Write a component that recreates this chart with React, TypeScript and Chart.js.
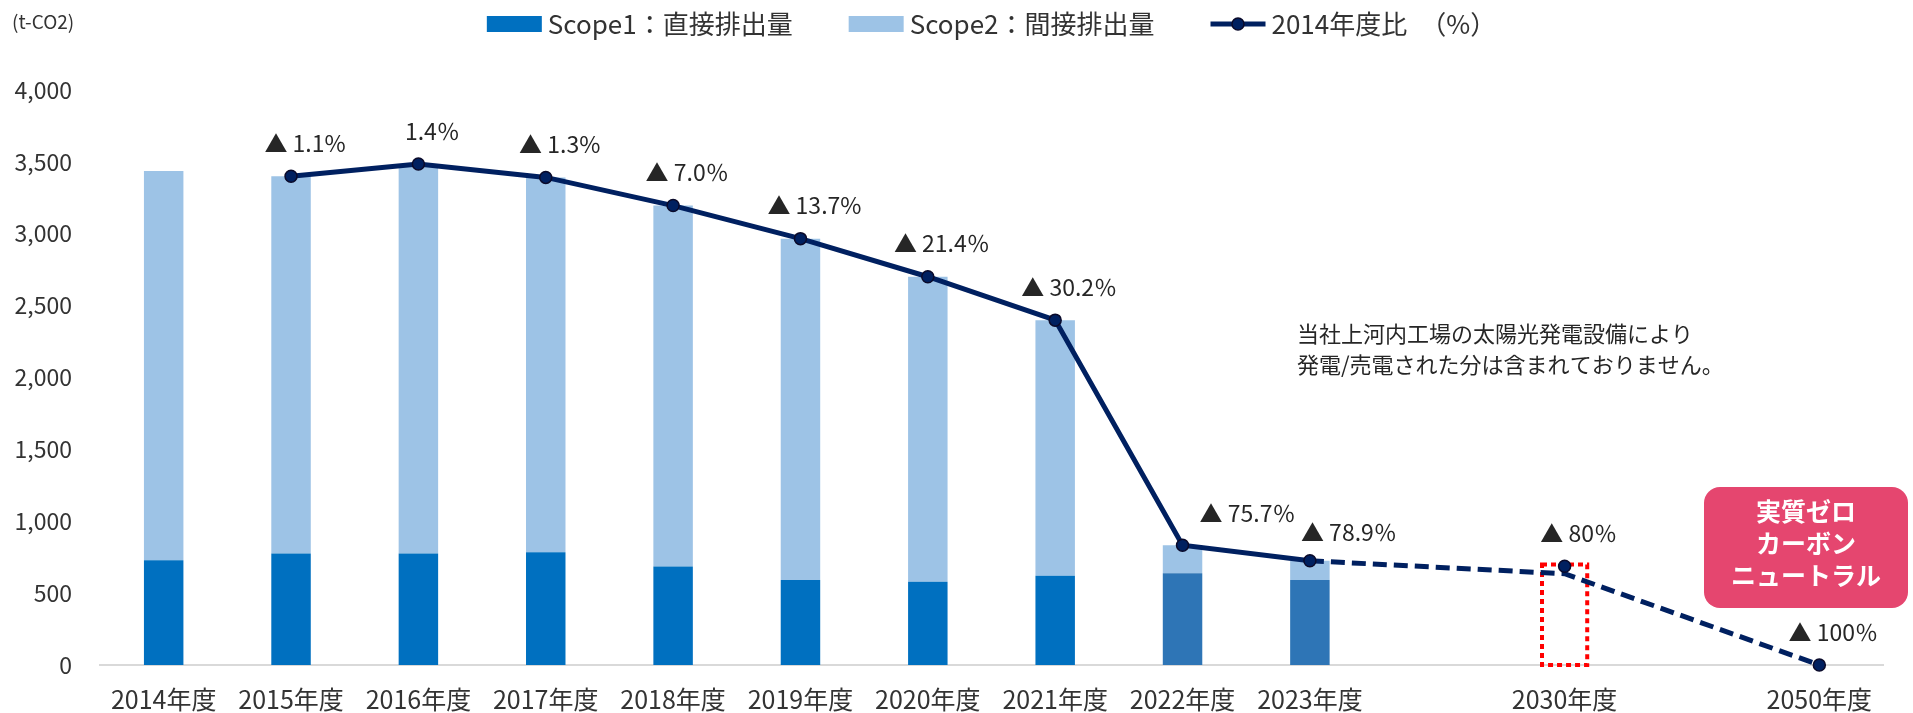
import React, { useEffect, useRef } from "react";
import { Chart, registerables } from "chart.js";

Chart.register(...registerables);

// ---------- data ----------
const categories = [
  "2014年度", "2015年度", "2016年度", "2017年度", "2018年度", "2019年度", "2020年度",
  "2021年度", "2022年度", "2023年度", "", "2030年度", "", "2050年度",
];
const scope1 = [728, 775, 775, 784, 686, 591, 580, 621, 638, 591, null, null, null, null];
const scope2 = [2709, 2625, 2710, 2608, 2510, 2375, 2121, 1778, 195, 134, null, null, null, null];
const ratioLine = [null, 3400, 3485, 3392, 3196, 2966, 2701, 2399, 833, 725, null, 687, null, 0];
const projection = [null, null, null, null, null, null, null, null, null, 725, null, 635, null, 0];
const target2030 = [null, null, null, null, null, null, null, null, null, null, null, 700, null, null];
const ratioLabels = [
  "", "▲ 1.1%", "1.4％", "▲ 1.3%", "▲ 7.0％", "▲ 13.7%", "▲ 21.4％", "▲ 30.2％",
  "▲ 75.7％", "▲ 78.9％", "", "▲ 80％", "", "▲ 100％",
];
const yMax = 4000;
const yStep = 500;

const legendLabels = ["Scope1：直接排出量", "Scope2：間接排出量", "2014年度比　（%）"];
const unitLabel = "(t-CO2)";
const noteLines = ["当社上河内工場の太陽光発電設備により", "発電/売電された分は含まれておりません。"];
const badgeLines = ["実質ゼロ", "カーボン", "ニュートラル"];

// ---------- styles ----------
const FONT = "'Noto Sans CJK JP', 'Noto Sans', sans-serif";
const C_SCOPE1 = "#0070C0";
const C_SCOPE1_LATE = "#2E75B6";
const C_SCOPE2 = "#9DC3E6";
const C_LINE = "#002060";
const C_TEXT = "#333333";
const C_BADGE = "#E5466F";
const LABEL_DX = 14;
const LABEL_DY = -33;
const LABEL_OVERRIDES: Record<number, [number, number]> = { 8: [65, -32], 9: [39, -29] };

const decorPlugin = {
  id: "decor",
  afterDatasetDraw(chart: any, args: any) {
    if (args.index !== 2) return;
    const ctx = chart.ctx;
    const meta = chart.getDatasetMeta(2);
    meta.data.forEach((el: any, i: number) => {
      if (target2030[i] == null) return;
      const { x, y, base, width } = el.getProps(["x", "y", "base", "width"], true);
      ctx.save();
      ctx.strokeStyle = "#FF0000";
      ctx.lineWidth = 4;
      ctx.setLineDash([5, 4]);
      ctx.strokeRect(x - width / 2, y, width, base - y);
      ctx.restore();
    });
  },
  afterDraw(chart: any) {
    const ctx = chart.ctx;
    const area = chart.chartArea;
    ctx.save();
    // point labels
    const meta = chart.getDatasetMeta(3);
    ctx.font = `23px ${FONT}`;
    ctx.fillStyle = "#262626";
    ctx.textAlign = "center";
    ctx.textBaseline = "middle";
    meta.data.forEach((el: any, i: number) => {
      const t = ratioLabels[i];
      if (!t || ratioLine[i] == null) return;
      const [dx, dy] = LABEL_OVERRIDES[i] || [LABEL_DX, LABEL_DY];
      ctx.fillText(t, el.x + dx, el.y + dy);
    });

    // unit label
    ctx.textAlign = "left";
    ctx.font = `19px ${FONT}`;
    ctx.fillStyle = C_TEXT;
    ctx.fillText(unitLabel, 12, 22);

    // legend (centred over chart area)
    ctx.font = `26px ${FONT}`;
    const boxW = 55;
    const gapText = 6;
    const gapItem = 56;
    const widths = legendLabels.map((l) => boxW + gapText + ctx.measureText(l).width);
    const total = widths.reduce((a, b) => a + b, 0) + gapItem * (widths.length - 1);
    let lx = (area.left + area.right) / 2 - total / 2;
    const ly = 24;
    legendLabels.forEach((l, i) => {
      if (i < 2) {
        ctx.fillStyle = i === 0 ? C_SCOPE1 : C_SCOPE2;
        ctx.fillRect(lx, ly - 8, boxW, 16);
      } else {
        ctx.strokeStyle = C_LINE;
        ctx.lineWidth = 5;
        ctx.beginPath();
        ctx.moveTo(lx, ly);
        ctx.lineTo(lx + boxW, ly);
        ctx.stroke();
        ctx.beginPath();
        ctx.arc(lx + boxW / 2, ly, 6, 0, Math.PI * 2);
        ctx.fillStyle = C_LINE;
        ctx.fill();
        ctx.lineWidth = 1.5;
        ctx.strokeStyle = "#0a0a2a";
        ctx.stroke();
      }
      ctx.fillStyle = C_TEXT;
      ctx.fillText(l, lx + boxW + gapText, ly);
      lx += widths[i] + gapItem;
    });

    // note
    ctx.font = `22px ${FONT}`;
    ctx.fillStyle = "#262626";
    noteLines.forEach((l, i) => ctx.fillText(l, 1297, 334 + i * 31));

    // badge
    const bx = 1704, by = 487, bw = 204, bh = 121, r = 16;
    ctx.fillStyle = C_BADGE;
    ctx.beginPath();
    ctx.moveTo(bx + r, by);
    ctx.arcTo(bx + bw, by, bx + bw, by + bh, r);
    ctx.arcTo(bx + bw, by + bh, bx, by + bh, r);
    ctx.arcTo(bx, by + bh, bx, by, r);
    ctx.arcTo(bx, by, bx + bw, by, r);
    ctx.closePath();
    ctx.fill();
    ctx.fillStyle = "#FFFFFF";
    ctx.font = `bold 25px ${FONT}`;
    ctx.textAlign = "center";
    badgeLines.forEach((l, i) => ctx.fillText(l, bx + bw / 2, by + 24 + i * 32));
    ctx.restore();
  },
};

export default function App() {
  const ref = useRef<HTMLCanvasElement | null>(null);
  useEffect(() => {
    if (!ref.current) return;
    const chart = new Chart(ref.current, {
      type: "bar",
      data: {
        labels: categories,
        datasets: [
          {
            type: "bar",
            label: legendLabels[0],
            data: scope1,
            backgroundColor: scope1.map((_, i) => (i >= 8 ? C_SCOPE1_LATE : C_SCOPE1)),
            borderWidth: 0,
            barPercentage: 0.31,
            categoryPercentage: 1,
            order: 3,
          },
          {
            type: "bar",
            label: legendLabels[1],
            data: scope2,
            backgroundColor: C_SCOPE2,
            borderWidth: 0,
            barPercentage: 0.31,
            categoryPercentage: 1,
            order: 3,
          },
          {
            type: "bar",
            label: "target",
            data: target2030,
            backgroundColor: "rgba(0,0,0,0)",
            borderWidth: 0,
            barPercentage: 0.355,
            categoryPercentage: 1,
            order: 3,
          },
          {
            type: "line",
            label: legendLabels[2],
            data: ratioLine,
            stack: "l1",
            borderColor: C_LINE,
            borderWidth: 5,
            pointRadius: 6,
            pointBackgroundColor: C_LINE,
            pointBorderColor: "#0a0a2a",
            pointBorderWidth: 1.5,
            spanGaps: false,
            tension: 0,
            clip: false,
            order: 0,
          } as any,
          {
            type: "line",
            label: "projection",
            data: projection,
            stack: "l2",
            borderColor: C_LINE,
            borderWidth: 5,
            borderDash: [14, 7],
            pointRadius: 0,
            spanGaps: true,
            tension: 0,
            clip: false,
            order: 1,
          } as any,
        ],
      },
      options: {
        responsive: false,
        animation: false,
        layout: { padding: { top: 90, left: 12, right: 30, bottom: 0 } },
        plugins: {
          legend: { display: false },
          tooltip: { enabled: false },
        },
        scales: {
          x: {
            stacked: true,
            offset: true,
            grid: { display: false, drawTicks: false },
            border: { display: true, color: "#D9D9D9", width: 2 },
            afterFit: (s: any) => {
              s.height = 48;
            },
            ticks: {
              autoSkip: false,
              maxRotation: 0,
              padding: 20,
              color: C_TEXT,
              font: { family: FONT, size: 25, lineHeight: 1.15 },
            },
          },
          y: {
            stacked: true,
            min: 0,
            max: yMax,
            grid: { display: false, drawTicks: false },
            border: { display: false },
            afterFit: (s: any) => {
              s.width = 88;
            },
            ticks: {
              stepSize: yStep,
              padding: 28,
              color: C_TEXT,
              font: { family: FONT, size: 23 },
              callback: (v: any) => Number(v).toLocaleString("en-US"),
            },
          },
        },
      },
      plugins: [decorPlugin],
    });
    return () => chart.destroy();
  }, []);
  return (
    <div style={{ position: "absolute", left: 0, top: 0, width: 1913, height: 713 }}>
      <canvas ref={ref} width={1913} height={713} />
    </div>
  );
}
